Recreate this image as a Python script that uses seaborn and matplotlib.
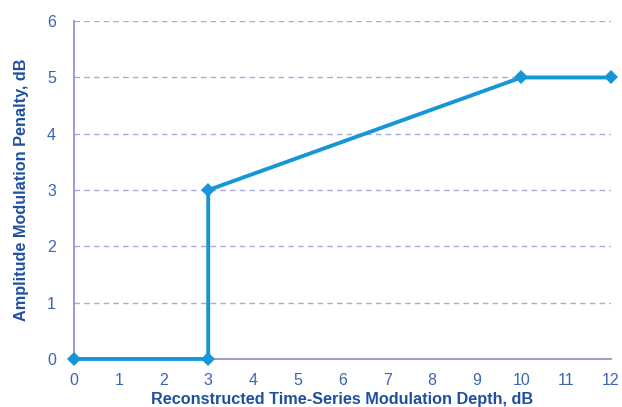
import matplotlib
matplotlib.use("Agg")
import matplotlib.pyplot as plt
import seaborn as sns
import pandas as pd

depth_db = [0, 3, 3, 10, 12]
penalty_db = [0, 0, 3, 5, 5]
x_ticks = list(range(0, 13))
y_ticks = list(range(0, 7))

sns.set_style("white")
plt.rcParams['font.family'] = ['Liberation Sans', 'DejaVu Sans']

df = pd.DataFrame({"depth": depth_db, "penalty": penalty_db})

fig = plt.figure(figsize=(6.22, 4.07), dpi=100)
ax = fig.add_axes([0.119, 0.118, 0.863, 0.830])

line_col = "#1496d8"
axis_col = "#9095c8"
tick_col = "#3c64b4"
label_col = "#1f4fa0"

for yv in y_ticks[1:]:
    ax.axhline(yv, color="#a7abd8", lw=1.0, ls=(0, (4, 3)), zorder=0)

sns.lineplot(data=df, x="depth", y="penalty", sort=False, estimator=None,
             ax=ax, color=line_col, lw=2.8, marker="D", markersize=7.5,
             markeredgewidth=0, zorder=3, clip_on=False)

ax.set_xlim(0, 12)
ax.set_ylim(0, 6)
ax.set_xticks(x_ticks)
ax.set_yticks(y_ticks)
ax.set_xticklabels([str(v) for v in x_ticks])
ax.set_yticklabels([str(v) for v in y_ticks])

for s in ["top", "right"]:
    ax.spines[s].set_visible(False)
for s in ["left", "bottom"]:
    ax.spines[s].set_color(axis_col)
    ax.spines[s].set_linewidth(1.3)

ax.tick_params(axis="both", which="both", colors=axis_col, labelcolor=tick_col,
               labelsize=11.5, direction="out", length=5, width=1.2)
ax.tick_params(axis="x", pad=5)
ax.tick_params(axis="y", pad=8)

ax.set_xlabel("Reconstructed Time-Series Modulation Depth, dB", color=label_col,
              fontsize=11.7, fontweight="bold", labelpad=3)
ax.set_ylabel("Amplitude Modulation Penalty, dB", color=label_col,
              fontsize=11.7, fontweight="bold", labelpad=13)

fig.savefig("out.png", dpi=100)
